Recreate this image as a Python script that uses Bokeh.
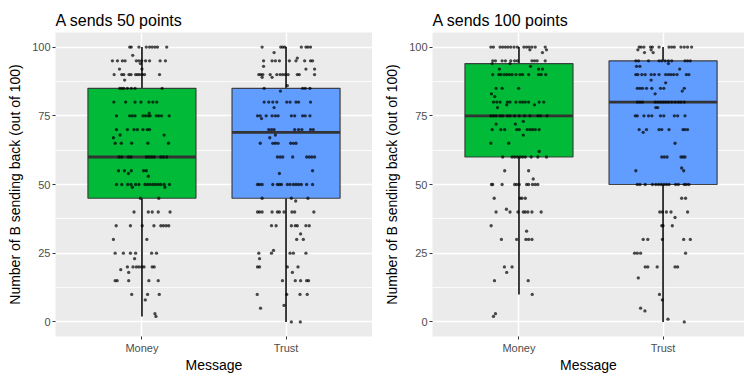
from bokeh.plotting import figure
from bokeh.layouts import row
from bokeh.models import Range1d, FixedTicker, ColumnDataSource
from bokeh.embed import file_html
from bokeh.resources import INLINE

# ---------------- data ----------------
panel_titles = ["A sends 50 points", "A sends 100 points"]
messages = ["Money", "Trust"]
box_colors = ["#00BA38", "#619CFF"]

# box statistics: [Money, Trust]
q1_50 = [45, 45]
med_50 = [60, 69]
q3_50 = [85, 85]
lo_50 = [2, 0]
hi_50 = [100, 100]

q1_100 = [60, 50]
med_100 = [75, 80]
q3_100 = [94, 95]
lo_100 = [10, 0]
hi_100 = [100, 100]

# individual responses: (value, [jitter offsets in category units])
money_50 = [
    (100, [-.085, -.074, -.021, .03, .053, .071, .09, .108, .172]),
    (97, [-.064]),
    (95, [-.205, -.17, -.136, -.117, -.039, -.021, -.002, .025, .053, .126, .163]),
    (94, [-.011]),
    (92, [-.156, 0.0]),
    (90, [-.193, -.14, -.126, -.09, -.076, -.044, -.03, -.016, .002, .018, .122]),
    (88, [-.12]),
    (85, [-.154, -.14, -.126, -.101, -.074, -.048, .14]),
    (80, [-.195, -.113, -.048, -.007, .048, .076, .103]),
    (76, [.05]),
    (75, [-.177, -.085, -.067, -.048, .007, .025, .044, .057, .099, .117, .136, .189]),
    (70, [-.177, -.101, -.055, -.032, .007, .037, .053]),
    (68, [-.152, .154]),
    (67, [-.198]),
    (65, [-.186, -.143, -.071, .041, .184]),
    (60, [-.159, -.14, -.094, -.076, .03, .048, .067, .085, .131, .149, .172]),
    (55, [-.163, -.122, -.074, .011, .03]),
    (54, [-.094]),
    (53, [.044]),
    (50, [-.177, -.14, -.099, -.076, -.044, -.021, .021, .039, .057, .076, .094, .113, .131, .154, .191]),
    (49, [-.067, .159]),
    (45, [-.011, .117]),
    (40, [-.055, .044, .071, .113, .195]),
    (35, [-.179, -.08, .002, .083, .131, .149, .168, .186]),
    (30, [-.198, .034]),
    (25, [-.186, -.129, -.08, -.044, .067, .101]),
    (23, [-.051]),
    (20, [-.101, -.062, -.039, -.021, -.002, .014, .071, .085]),
    (19, [-.147]),
    (18, [-.092]),
    (15, [-.186, -.172, -.092, .048, .113]),
    (10, [-.071, .039, .12]),
    (8, [.023]),
    (3, [.09]),
    (2, [.097]),
]

trust_50 = [
    (100, [-.166, -.037, -.023, -.009, .106, .138, .152, .17]),
    (98, [-.083]),
    (96, [.078]),
    (95, [-.156, -.097, -.074, -.046, .023, .069, .129, .17, .184]),
    (93, [-.156]),
    (92, [.138, .198]),
    (90, [-.189, -.175, -.161, -.11, -.064, -.041, -.023, -.005, .014, .078, .092, .198]),
    (89, [-.166, -.097]),
    (86, [.009]),
    (85, [-.152, .115, .133, .166]),
    (84, [-.039]),
    (80, [-.152, -.12, -.092, -.064, .005, .028, .069, .087, .17]),
    (78, [-.083]),
    (75, [-.198, -.179, -.138, -.097, -.074, -.055, .037, .06, .115, .133, .166]),
    (74, [-.17]),
    (70, [-.12, -.101, -.083, .06, .087, .11, .17, .189]),
    (68, [-.074]),
    (67, [-.113]),
    (65, [-.179, -.092, -.074, -.055, .032, .051, .069]),
    (60, [-.06, -.041, -.023, .046, .143, .161, .179, .198]),
    (55, [.184]),
    (54, [-.046]),
    (50, [-.198, -.184, -.166, -.092, -.06, -.046, -.032, .009, .028, .051, .069, .087, .106, .143, .184]),
    (45, [-.166, .037, .152]),
    (44, [.067]),
    (40, [-.198, -.184, -.166, -.097, -.06, -.046, -.014, .041, .06, .193]),
    (35, [-.101, -.069, .037, .064, .078, .138, .161]),
    (32, [.101]),
    (30, [.074, .12]),
    (26, [-.087]),
    (25, [-.189, -.101, .028, .051, .138]),
    (23, [-.184]),
    (20, [-.198, -.184, .009, .083]),
    (18, [.044]),
    (15, [-.025, .064, .101, .143, .156]),
    (10, [-.2, .005, .097, .147]),
    (6, [-.014]),
    (5, [-.177]),
    (0, [.037, .099]),
]

money_100 = [
    (100, [-.195, -.177, -.131, -.113, -.094, -.076, -.057, -.034, -.011, .034, .053, .071, .09, .113, .182]),
    (99, [.076, .191]),
    (98, [.163]),
    (95, [-.182, -.163, -.117, -.094, -.057, -.03, -.011, .09, .108, .126, .182]),
    (94, [-.186, -.062]),
    (93, [.08]),
    (92, [-.136, .136, .163]),
    (90, [-.182, -.14, -.126, -.103, -.085, -.067, -.048, -.021, .007, .025, .067, .136, .154, .186]),
    (85, [-.159, -.117, -.002]),
    (83, [-.191]),
    (82, [-.168]),
    (80, [-.177, -.154, -.131, -.08, -.062, -.021, .007, .025, .044, .067, .14, .172]),
    (79, [-.085, .108]),
    (78, [-.149]),
    (75, [-.195, -.177, -.159, -.131, -.113, -.08, -.062, -.03, .002, .039, .076, .131, .149, .195]),
    (73, [.03]),
    (72, [-.159, -.025]),
    (70, [-.186, -.126, -.099, -.016, .002, .057, .076, .094, .113, .14]),
    (68, [.03]),
    (65, [-.195, -.071]),
    (62, [.14]),
    (60, [-.113, -.048, -.03, -.011, .007, .025, .044, .085, .131, .191]),
    (55, [-.099, .067]),
    (52, [.099]),
    (50, [-.191, -.182, -.117, -.03, -.016, .002, .053, .067, .094, .113, .131]),
    (45, [-.172, .007, .021, .044]),
    (41, [-.087]),
    (40, [-.159, -.062, -.007, .03, .044, .062, .09, .154]),
    (35, [-.193]),
    (33, [.053]),
    (30, [-.122, -.016, .048, .067, .09]),
    (20, [-.101, -.048]),
    (18, [-.085]),
    (15, [-.17, .064]),
    (10, [.092]),
    (3, [-.163]),
    (2, [-.177]),
]

trust_100 = [
    (100, [-.166, -.152, -.133, -.087, -.074, -.028, .041, .06, .078, .124, .147, .17, .198]),
    (99, [-.175, -.083]),
    (98, [-.129, -.069]),
    (95, [-.189, -.17, -.101, -.028, -.009, .014, .037, .06, .152, .17, .189]),
    (94, [.037]),
    (93, [-.184, -.161]),
    (92, [.115]),
    (90, [-.189, -.175, -.147, -.124, -.083, -.06, -.028, .018, .037, .055, .074, .097, .161, .179]),
    (88, [-.083]),
    (87, [.018]),
    (85, [-.179, -.161, -.143, -.115, -.078, -.018, .005, .147]),
    (84, [.133]),
    (83, [-.055]),
    (80, [-.179, -.161, -.143, -.055, -.037, -.018, 0.0, .018, .037, .06, .083, .106, .124, .147]),
    (78, [-.051, -.037]),
    (75, [-.193, -.179, -.133, -.101, -.078, -.018, .005, .078, .101, .152]),
    (70, [-.166, -.115, -.028, -.009, .041, .138, .152, .17]),
    (69, [-.138]),
    (65, [.083]),
    (60, [-.009, .009, .028, .124, .138, .152]),
    (56, [.129]),
    (55, [-.189, .143]),
    (50, [-.179, -.161, -.124, -.074, -.051, -.032, -.014, .005, .023, .041, .087, .106, .147, .161, .179]),
    (45, [.129, .156]),
    (40, [-.023, -.005, .023, .055, .17]),
    (38, [.083]),
    (35, [-.009, 0.0, .064]),
    (30, [-.138, -.106, -.005, .143, .189]),
    (25, [-.198, -.179, -.156, .156]),
    (20, [-.124, -.106, -.041, .083, .101]),
    (16, [-.172]),
    (10, [-.025]),
    (8, [-.005]),
    (5, [-.156]),
    (4, [-.126]),
    (1, [.034]),
    (0, [.147]),
]

y_ticks = [0, 25, 50, 75, 100]
y_minor = [12.5, 37.5, 62.5, 87.5]

# ---------------- drawing ----------------
FONT = "Liberation Sans"
BOX_W = 0.75


def expand(rows, center):
    xs, ys = [], []
    for v, jits in rows:
        for j in jits:
            xs.append(center + j)
            ys.append(v)
    return xs, ys


def make_panel(title, groups, q1, med, q3, lo, hi, x_end, border_left):
    p = figure(width=372, height=375, title=title,
               x_range=Range1d(0.4, x_end), y_range=Range1d(-5.3, 105.3),
               output_backend="svg", toolbar_location=None,
               min_border_left=border_left, min_border_right=0,
               min_border_top=32, min_border_bottom=38)
    p.background_fill_color = "#EBEBEB"
    p.border_fill_color = "white"
    p.outline_line_color = None

    p.title.text_font = FONT
    p.title.text_font_size = "16px"
    p.title.text_font_style = "normal"
    p.title.text_color = "black"
    p.title.align = "left"
    p.title.offset = 0
    p.title.standoff = 7

    xs = [1, 2]
    src = ColumnDataSource(dict(
        x=xs, q1=q1, med=med, q3=q3, lo=lo, hi=hi, color=box_colors,
        x0=[x - BOX_W / 2 for x in xs], x1=[x + BOX_W / 2 for x in xs]))

    p.segment(x0="x", y0="q3", x1="x", y1="hi", source=src,
              line_color="#333333", line_width=1.9)
    p.segment(x0="x", y0="lo", x1="x", y1="q1", source=src,
              line_color="#333333", line_width=1.9)
    p.vbar(x="x", width=BOX_W, bottom="q1", top="q3", source=src,
           fill_color="color", line_color="#333333", line_width=1.2,
           line_alpha=0.9)
    p.segment(x0="x0", y0="med", x1="x1", y1="med", source=src,
              line_color="#333333", line_width=2.8)

    for center, rows in zip(xs, groups):
        px, py = expand(rows, center)
        p.scatter(px, py, size=3.3, fill_color="black", line_color="black",
                  alpha=0.7, line_width=0)

    # grid
    p.ygrid.ticker = FixedTicker(ticks=y_ticks, minor_ticks=y_minor)
    p.ygrid.grid_line_color = "white"
    p.ygrid.grid_line_width = 1.5
    p.ygrid.minor_grid_line_color = "white"
    p.ygrid.minor_grid_line_width = 0.8
    p.xgrid.ticker = FixedTicker(ticks=xs)
    p.xgrid.grid_line_color = "white"
    p.xgrid.grid_line_width = 1.5

    # axes
    p.yaxis.ticker = FixedTicker(ticks=y_ticks)
    p.xaxis.ticker = FixedTicker(ticks=xs)
    p.xaxis.major_label_overrides = {1: messages[0], 2: messages[1]}
    p.xaxis.axis_label = "Message"
    p.yaxis.axis_label = "Number of B sending back (out of 100)"
    for ax in (p.xaxis, p.yaxis):
        ax.axis_line_color = None
        ax.major_tick_line_color = "#333333"
        ax.major_tick_line_width = 1
        ax.major_tick_out = 3
        ax.major_tick_in = 0
        ax.minor_tick_line_color = None
        ax.major_label_text_font = FONT
        ax.major_label_text_font_size = "11px"
        ax.major_label_text_color = "#4D4D4D"
        ax.major_label_standoff = 2
        ax.axis_label_text_font = FONT
        ax.axis_label_text_font_size = "14px"
        ax.axis_label_text_font_style = "normal"
        ax.axis_label_text_color = "black"
    p.xaxis.axis_label_standoff = 0
    p.yaxis.axis_label_standoff = 6
    return p


left = make_panel(panel_titles[0], [money_50, trust_50],
                  q1_50, med_50, q3_50, lo_50, hi_50, 2.6, 55)
right = make_panel(panel_titles[1], [money_100, trust_100],
                   q1_100, med_100, q3_100, lo_100, hi_100, 2.565, 60)

layout = row(left, right)
open("out.html", "w").write(file_html(layout, INLINE))
